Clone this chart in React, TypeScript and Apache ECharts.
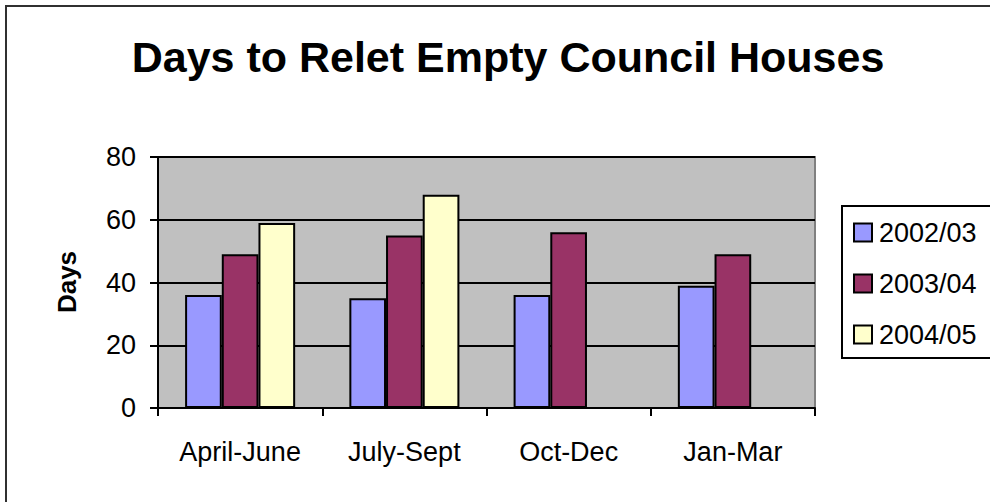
import React, { useEffect, useRef } from "react";
import * as echarts from "echarts";

const categories = ["April-June", "July-Sept", "Oct-Dec", "Jan-Mar"];
const seriesNames = ["2002/03", "2003/04", "2004/05"];
const values2002 = [36, 35, 36, 39];
const values2003 = [49, 55, 56, 49];
const values2004: (number | null)[] = [59, 68, null, null];
const seriesColors = ["#9999FF", "#993366", "#FFFFCC"];
const yTicks = { min: 0, max: 80, interval: 20 };

const FONT = "'Liberation Sans', Arial, sans-serif";

export default function App() {
  const ref = useRef<HTMLDivElement>(null);
  useEffect(() => {
    if (!ref.current) return;
    const chart = echarts.init(ref.current, null, { renderer: "svg" });
    const data = [values2002, values2003, values2004];
    chart.setOption({
      animation: false,
      backgroundColor: "#ffffff",
      textStyle: { fontFamily: FONT },
      graphic: [
        {
          type: "rect",
          shape: { x: 6, y: 6, width: 1100, height: 600 },
          style: { fill: "none", stroke: "#303030", lineWidth: 2 },
          z: 100,
        },
        {
          type: "rect",
          shape: { x: 842, y: 206, width: 300, height: 152 },
          style: { fill: "none", stroke: "#000", lineWidth: 2 },
          z: 100,
        },
        {
          type: "rect",
          shape: { x: 158, y: 157, width: 657, height: 251 },
          style: { fill: "#C0C0C0", stroke: "#808080", lineWidth: 2 },
          z: -10,
        },
        {
          type: "text",
          x: 508,
          y: 57,
          style: {
            text: "Days to Relet Empty Council Houses",
            font: `bold 43px ${FONT}`,
            fill: "#000",
            textAlign: "center",
            textVerticalAlign: "middle",
          },
        },
        {
          type: "text",
          x: 67,
          y: 282,
          rotation: Math.PI / 2,
          style: {
            text: "Days",
            font: `bold 26px ${FONT}`,
            fill: "#000",
            textAlign: "center",
            textVerticalAlign: "middle",
          },
        },
      ],
      legend: {
        orient: "vertical",
        left: 842,
        top: 206,
        padding: [13, 10, 10, 11],
        itemGap: 24,
        itemWidth: 18,
        itemHeight: 18,
        icon: "rect",
        textStyle: { fontSize: 27, color: "#000", fontFamily: FONT, padding: [0, 0, 0, 2] },
        data: seriesNames,
      },
      grid: { left: 158, top: 157, right: 175, bottom: 94, containLabel: false },
      xAxis: {
        type: "category",
        data: categories,
        axisLine: { lineStyle: { color: "#000", width: 2 } },
        axisTick: { show: true, alignWithLabel: false, length: 8, lineStyle: { color: "#000", width: 2 } },
        axisLabel: { fontSize: 27, color: "#000", margin: 30, fontFamily: FONT },
      },
      yAxis: {
        type: "value",
        min: yTicks.min,
        max: yTicks.max,
        interval: yTicks.interval,
        axisLine: { show: true, lineStyle: { color: "#000", width: 2 } },
        axisTick: { show: true, length: 8, lineStyle: { color: "#000", width: 2 } },
        axisLabel: { fontSize: 27, color: "#000", margin: 22, fontFamily: FONT },
        splitLine: { lineStyle: { color: "#000", width: 2 } },
      },
      series: seriesNames.map((name, i) => ({
        name,
        type: "bar",
        data: data[i],
        barGap: "0%",
        barCategoryGap: "33%",
        itemStyle: { color: seriesColors[i], borderColor: "#000", borderWidth: 2 },
      })),
    });
    return () => chart.dispose();
  }, []);
  return (
    <div
      ref={ref}
      style={{ position: "fixed", left: 0, top: 0, width: 990, height: 502 }}
    />
  );
}
